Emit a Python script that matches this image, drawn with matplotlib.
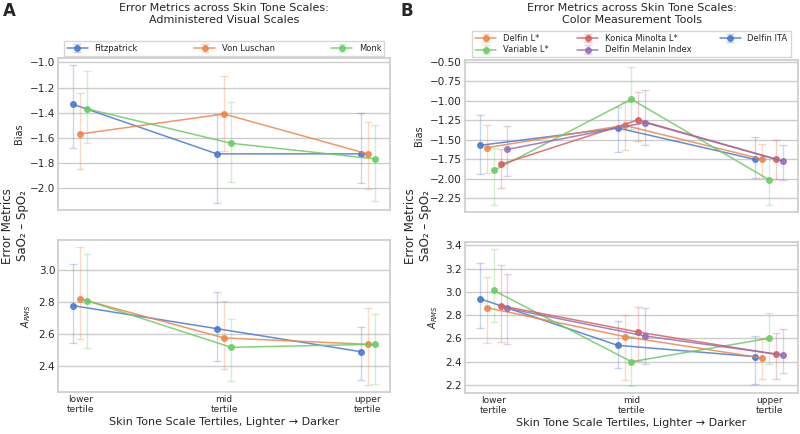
import numpy as np
import matplotlib
matplotlib.use("Agg")
import matplotlib.pyplot as plt
from matplotlib.ticker import MultipleLocator, FuncFormatter
import seaborn as sns

sns.set_theme(style="whitegrid", palette="muted")
plt.rcParams["font.family"] = ["DejaVu Sans"]

TERTILES = ["lower\ntertile", "mid\ntertile", "upper\ntertile"]

# ---- panel A: administered visual scales ----
A_NAMES = ["Fitzpatrick", "Von Luschan", "Monk"]
A_BIAS = [[-1.333, -1.727, -1.727], [-1.569, -1.410, -1.727], [-1.370, -1.643, -1.767]]
A_BIAS_HI = [[-1.021, -1.410, -1.400], [-1.240, -1.106, -1.476], [-1.071, -1.315, -1.495]]
A_BIAS_LO = [[-1.680, -2.119, -1.960], [-1.849, -1.706, -2.008], [-1.643, -1.952, -2.100]]
A_ARMS = [[2.778, 2.634, 2.490], [2.820, 2.576, 2.536], [2.808, 2.517, 2.536]]
A_ARMS_HI = [[3.036, 2.864, 2.647], [3.146, 2.806, 2.764], [3.102, 2.697, 2.726]]
A_ARMS_LO = [[2.544, 2.429, 2.314], [2.569, 2.381, 2.281], [2.515, 2.304, 2.289]]

# ---- panel B: color measurement tools (plot order) ----
B_NAMES = ["Delfin ITA", "Delfin L*", "Variable L*", "Konica Minolta L*", "Delfin Melanin Index"]
B_BIAS = [[-1.573, -1.350, -1.754], [-1.603, -1.316, -1.750], [-1.896, -0.981, -2.016],
          [-1.818, -1.247, -1.750], [-1.625, -1.281, -1.776]]
B_BIAS_HI = [[-1.187, -1.080, -1.470], [-1.307, -1.015, -1.552], [-1.608, -0.564, -1.745],
             [-1.616, -0.887, -1.505], [-1.325, -0.865, -1.573]]
B_BIAS_LO = [[-1.947, -1.660, -1.995], [-1.925, -1.629, -1.995], [-2.334, -1.358, -2.338],
             [-2.118, -1.518, -2.003], [-1.973, -1.565, -2.016]]
B_ARMS = [[2.942, 2.541, 2.443], [2.865, 2.616, 2.432], [3.013, 2.400, 2.601],
          [2.882, 2.655, 2.464], [2.859, 2.621, 2.458]]
B_ARMS_HI = [[3.245, 2.753, 2.624], [3.131, 2.800, 2.607], [3.371, 2.620, 2.822],
             [3.228, 2.873, 2.644], [3.157, 2.861, 2.678]]
B_ARMS_LO = [[2.693, 2.343, 2.206], [2.564, 2.240, 2.249], [2.744, 2.190, 2.378],
             [2.573, 2.406, 2.255], [2.550, 2.378, 2.306]]
B_LEGEND_ORDER = [1, 2, 3, 4, 0]

COLORS = sns.color_palette("muted")
DODGE = 0.05
GRAY = "#cccccc"


def style(ax, step, nd):
    ax.grid(axis="x", visible=False)
    ax.grid(axis="y", color=GRAY, lw=1.0)
    for s in ax.spines.values():
        s.set_color(GRAY)
        s.set_linewidth(1.2)
    ax.yaxis.set_major_locator(MultipleLocator(step))
    ax.yaxis.set_major_formatter(FuncFormatter(
        lambda v, _: f"{v:.{nd}f}".replace("-", "\u2212")))
    ax.tick_params(axis="both", labelsize=7.5, pad=2, length=0)


def draw(ax, vals, hi, lo):
    n = len(vals)
    handles = []
    x0 = np.arange(len(TERTILES))
    for i in range(n):
        x = x0 + (i - (n - 1) / 2) * DODGE
        v = np.array(vals[i])
        yerr = [v - np.array(lo[i]), np.array(hi[i]) - v]
        c = COLORS[i]
        eb = ax.errorbar(x, v, yerr=yerr, fmt="none", ecolor=c, alpha=0.3,
                         elinewidth=1, capsize=3, capthick=1)
        ln, = ax.plot(x, v, "-o", color=c, lw=1.1, ms=4, alpha=0.85)
        handles.append((eb, ln))
    ax.set_xticks(x0)
    return handles


fig = plt.figure(figsize=(8, 4.34), dpi=100)

# panel A
axA1 = fig.add_axes([0.0725, 0.516, 0.415, 0.350])
axA2 = fig.add_axes([0.0725, 0.097, 0.415, 0.350])
hA = draw(axA1, A_BIAS, A_BIAS_HI, A_BIAS_LO)
draw(axA2, A_ARMS, A_ARMS_HI, A_ARMS_LO)
# panel B
axB1 = fig.add_axes([0.581, 0.512, 0.4165, 0.350])
axB2 = fig.add_axes([0.581, 0.0945, 0.4165, 0.348])
hB = draw(axB1, B_BIAS, B_BIAS_HI, B_BIAS_LO)
draw(axB2, B_ARMS, B_ARMS_HI, B_ARMS_LO)

style(axA1, 0.2, 1)
style(axA2, 0.2, 1)
style(axB1, 0.25, 2)
style(axB2, 0.2, 1)
for ax in (axA1, axB1):
    ax.set_xticklabels([])
    ax.set_ylabel("Bias", fontsize=7, labelpad=4)
for ax in (axA2, axB2):
    ax.set_xticklabels(TERTILES, fontsize=6.5)
    ax.set_ylabel("$A_{RMS}$", fontsize=7, labelpad=4)
    ax.set_xlabel("Skin Tone Scale Tertiles, Lighter \u2192 Darker", fontsize=8, labelpad=2)

leg_kw = dict(loc="lower left", mode="expand", ncol=3, fontsize=6, frameon=True,
              borderaxespad=0.3, handlelength=2.5, edgecolor=GRAY, fancybox=False,
              handletextpad=0.8, labelspacing=0.3, borderpad=0.35)
axA1.legend(hA, A_NAMES, bbox_to_anchor=(0.01, 1.0, 0.98, 0.1), **leg_kw)
axB1.legend([hB[i] for i in B_LEGEND_ORDER], [B_NAMES[i] for i in B_LEGEND_ORDER],
            bbox_to_anchor=(0.015, 1.0, 0.97, 0.1), **leg_kw)

fig.text(0.28, 0.993, "Error Metrics across Skin Tone Scales:\nAdministered Visual Scales",
         ha="center", va="top", fontsize=8)
fig.text(0.79, 0.993, "Error Metrics across Skin Tone Scales:\nColor Measurement Tools",
         ha="center", va="top", fontsize=8)
fig.text(0.004, 0.995, "A", fontsize=12, fontweight="bold", va="top")
fig.text(0.5, 0.995, "B", fontsize=12, fontweight="bold", va="top")
fig.text(0.019, 0.48, "Error Metrics\nSaO\u2082 \u2013 SpO\u2082", rotation=90,
         ha="center", va="center", fontsize=8.5)
fig.text(0.522, 0.48, "Error Metrics\nSaO\u2082 \u2013 SpO\u2082", rotation=90,
         ha="center", va="center", fontsize=8.5)

fig.savefig("out.png", dpi=100)
